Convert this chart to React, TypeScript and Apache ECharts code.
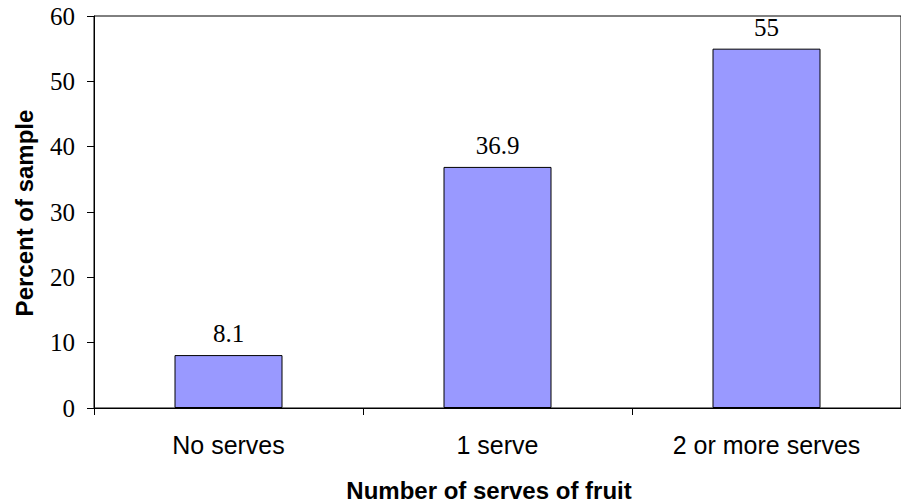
import React, { useEffect, useRef } from "react";
import * as echarts from "echarts";

const categories = ["No serves", "1 serve", "2 or more serves"];
const percents = [8.1, 36.9, 55];
const yTitle = "Percent of sample";
const xTitle = "Number of serves of fruit";

export default function App() {
  const ref = useRef<HTMLDivElement>(null);
  useEffect(() => {
    const chart = echarts.init(ref.current!, null, { renderer: "svg" });
    chart.setOption({
      animation: false,
      backgroundColor: "#ffffff",
      grid: {
        left: 94,
        top: 16,
        width: 816,
        height: 392,
        show: true,
        borderColor: "#000",
        borderWidth: 1,
        backgroundColor: "transparent",
      },
      xAxis: {
        type: "category",
        data: categories,
        boundaryGap: true,
        axisLine: { show: true, lineStyle: { color: "#000", width: 1 } },
        axisTick: { show: true, length: 7, alignWithLabel: false, lineStyle: { color: "#000" } },
        axisLabel: {
          color: "#000",
          fontFamily: "Liberation Sans, Arial, sans-serif",
          fontSize: 25,
          margin: 24,
        },
        splitLine: { show: false },
      },
      yAxis: {
        type: "value",
        min: 0,
        max: 60,
        interval: 10,
        axisLine: { show: true, lineStyle: { color: "#000", width: 1 } },
        axisTick: { show: true, length: 7, lineStyle: { color: "#000" } },
        axisLabel: {
          color: "#000",
          fontFamily: "Liberation Serif, Times New Roman, serif",
          fontSize: 25,
          margin: 19,
        },
        splitLine: { show: false },
      },
      graphic: [
        {
          type: "text",
          x: 489,
          y: 490,
          style: {
            text: xTitle,
            fontFamily: "Liberation Sans, Arial, sans-serif",
            fontWeight: "bold",
            fontSize: 24,
            fill: "#000",
            align: "center",
            verticalAlign: "middle",
          },
        },
        {
          type: "text",
          x: 24,
          y: 213,
          rotation: Math.PI / 2,
          style: {
            text: yTitle,
            fontFamily: "Liberation Sans, Arial, sans-serif",
            fontWeight: "bold",
            fontSize: 24,
            fill: "#000",
            align: "center",
            verticalAlign: "middle",
          },
        },
      ],
      series: [
        {
          type: "bar",
          data: percents,
          barWidth: 108,
          itemStyle: { color: "#9999FF", borderColor: "#000", borderWidth: 1 },
          label: {
            show: true,
            position: "top",
            distance: 9,
            color: "#000",
            fontFamily: "Liberation Serif, Times New Roman, serif",
            fontSize: 25,
          },
        },
      ],
    });
    return () => chart.dispose();
  }, []);
  return <div ref={ref} style={{ width: 901, height: 504, position: "absolute", left: 0, top: 0 }} />;
}
